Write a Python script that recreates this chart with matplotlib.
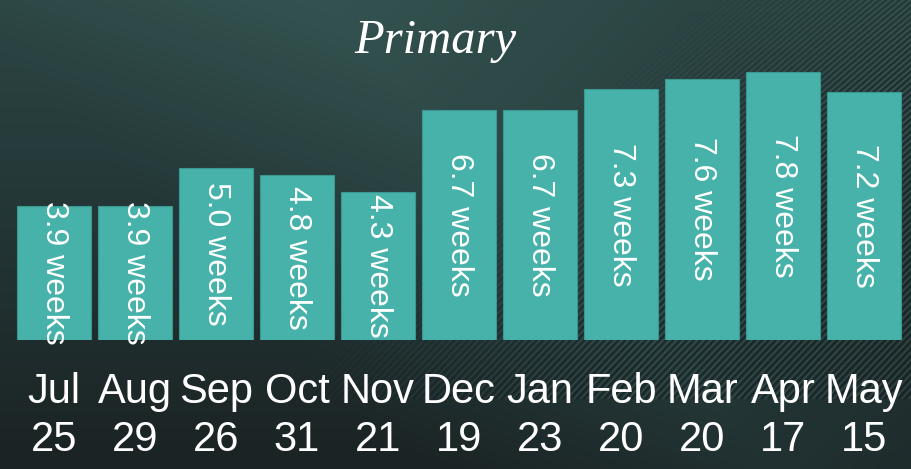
import matplotlib
matplotlib.use('Agg')
import matplotlib.pyplot as plt
import numpy as np
from matplotlib.colors import LinearSegmentedColormap

months = ['Jul', 'Aug', 'Sep', 'Oct', 'Nov', 'Dec', 'Jan', 'Feb', 'Mar', 'Apr', 'May']
counts = [25, 29, 26, 31, 21, 19, 23, 20, 20, 17, 15]
weeks = [3.9, 3.9, 5.0, 4.8, 4.3, 6.7, 6.7, 7.3, 7.6, 7.8, 7.2]

W, H = 911, 469
fig = plt.figure(figsize=(W / 100, H / 100), dpi=100)

# background: dark teal gradient with a lighter sweep in the middle
bg = fig.add_axes([0, 0, 1, 1])
yy, xx = np.mgrid[0:1:200j, 0:1:400j]
shade = 0.55 * (1 - yy) + 0.22 * np.clip(1 - np.abs(xx - 0.35 - yy * 0.5) * 2.5, 0, 1)
cmap = LinearSegmentedColormap.from_list('bg', ['#1b2324', '#263b3b', '#33524f'])
bg.imshow(shade, cmap=cmap, aspect='auto', extent=[0, 1, 0, 1], origin='upper', vmin=0, vmax=0.75)
# streak texture, heavier on the right
t = np.linspace(0, 1, 50)
for k in range(110):
    x0 = 0.30 + k * 0.0075
    xs = x0 + 0.45 * t + 0.08 * t ** 2
    ys = 0.15 + 0.95 * t
    a = min(1.0, k / 45)
    bg.plot(xs, ys, color='#7fa39e', lw=0.6, alpha=0.28 * a)
    bg.plot(xs + 0.0035, ys, color='#0b1213', lw=0.9, alpha=0.5 * a)
bg.set_xlim(0, 1)
bg.set_ylim(0, 1)
bg.axis('off')

# bars
ax = fig.add_axes([13.5 / W, 129 / H, 891 / W, 340 / H])
ax.patch.set_alpha(0)
x = np.arange(len(months))
ax.bar(x, weeks, width=0.91, color='#46b2aa', edgecolor='#3a9891', linewidth=0.8)
ax.set_xlim(-0.5, len(months) - 0.5)
ax.set_ylim(0, 340 / 34.4)

for xi, v in zip(x, weeks):
    ax.text(xi, v / 2, f'{v:.1f} weeks', rotation=-90, ha='center', va='center',
            color='white', fontsize=23, family='Liberation Sans')

ax.set_xticks(x)
ax.set_xticklabels([f'{m}\n{c}' for m, c in zip(months, counts)], color='white',
                   fontsize=30, family='Liberation Sans', linespacing=1.25)
ax.tick_params(axis='x', length=0, pad=23)
ax.set_yticks([])
for s in ax.spines.values():
    s.set_visible(False)

fig.text(435 / W, 1 - 53 / H, 'Primary', ha='center', va='baseline', color='white',
         fontsize=35, family='Liberation Serif', style='italic')

plt.savefig('out.png', dpi=100)
plt.close()
